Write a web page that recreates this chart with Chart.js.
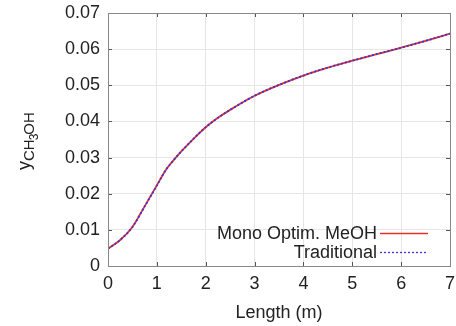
<!DOCTYPE html>
<html><head><meta charset="utf-8">
<script src="https://cdn.jsdelivr.net/npm/chart.js@4/dist/chart.umd.min.js"></script>
<style>html,body{margin:0;padding:0;background:#fff}#c{display:block}</style>
</head><body>
<canvas id="c" width="456" height="326"></canvas>
<script>
const lengthM = [0, 0.25, 0.5, 0.75, 1.0, 1.1, 1.2, 1.3, 1.5, 1.75, 2.0, 2.25, 2.5, 3.0, 3.5, 4.0, 4.5, 5.0, 5.5, 6.0, 6.5, 7.0];
const monoOptim = [0.0048, 0.0072, 0.0108, 0.0165, 0.0223, 0.0247, 0.0269, 0.0286, 0.0317, 0.0352, 0.0384, 0.0410, 0.0432, 0.0471, 0.0501, 0.0527, 0.0549, 0.0568, 0.0586, 0.0604, 0.0623, 0.0643];
const traditional = [0.0048, 0.0072, 0.0108, 0.0165, 0.0223, 0.0247, 0.0269, 0.0286, 0.0317, 0.0352, 0.0384, 0.0410, 0.0432, 0.0471, 0.0501, 0.0527, 0.0549, 0.0568, 0.0586, 0.0604, 0.0623, 0.0643];
const xTicks = [0,1,2,3,4,5,6,7];
const yTicks = [0,0.01,0.02,0.03,0.04,0.05,0.06,0.07];
const seriesNames = ['Mono Optim. MeOH', 'Traditional'];

const FONT = 'Liberation Sans, Arial, sans-serif';
const pts = (xs, ys) => xs.map((x, i) => ({x, y: ys[i]}));

const framePlugin = {
  id: 'frame',
  afterDraw(chart) {
    const {ctx, chartArea: a, scales: {x, y}} = chart;
    ctx.save();
    ctx.strokeStyle = '#555';
    ctx.lineWidth = 1;
    const L = 4;
    ctx.beginPath();
    xTicks.forEach(v => {
      const px = Math.round(x.getPixelForValue(v)) + 0.5;
      ctx.moveTo(px, a.bottom); ctx.lineTo(px, a.bottom - L);
      ctx.moveTo(px, a.top); ctx.lineTo(px, a.top + L);
    });
    yTicks.forEach(v => {
      const py = Math.round(y.getPixelForValue(v)) + 0.5;
      ctx.moveTo(a.left, py); ctx.lineTo(a.left + L, py);
      ctx.moveTo(a.right, py); ctx.lineTo(a.right - L, py);
    });
    ctx.stroke();
    ctx.strokeStyle = '#888';
    ctx.strokeRect(Math.round(a.left) + 0.5, Math.round(a.top) + 0.5, Math.round(a.right - a.left), Math.round(a.bottom - a.top));

    // legend (text right-aligned, sample on the right)
    ctx.font = '18px ' + FONT;
    ctx.textAlign = 'right';
    ctx.textBaseline = 'middle';
    const ds = chart.data.datasets;
    const rowsY = [233, 252];
    ds.forEach((d, i) => {
      const yy = rowsY[i];
      ctx.fillStyle = '#222';
      ctx.fillText(d.label, 377, yy + 1);
      ctx.strokeStyle = d.borderColor;
      ctx.lineWidth = 1.3;
      ctx.setLineDash(d.borderDash || []);
      ctx.beginPath();
      ctx.moveTo(380, yy + 0.5); ctx.lineTo(428, yy + 0.5);
      ctx.stroke();
      ctx.setLineDash([]);
    });

    // y-axis title: y_{CH_3OH}
    ctx.translate(30, 170);
    ctx.rotate(-Math.PI / 2);
    ctx.textAlign = 'left';
    ctx.textBaseline = 'alphabetic';
    ctx.fillStyle = '#222';
    let cx = 0;
    ctx.font = '18px ' + FONT;
    ctx.fillText('y', cx, 0); cx += ctx.measureText('y').width;
    ctx.font = '15px ' + FONT;
    ctx.fillText('CH', cx, 4); cx += ctx.measureText('CH').width;
    ctx.font = '12px ' + FONT;
    ctx.fillText('3', cx - 1, 8); cx += ctx.measureText('3').width - 2;
    ctx.font = '15px ' + FONT;
    ctx.fillText('OH', cx, 4);
    ctx.restore();
  }
};

new Chart(document.getElementById('c'), {
  type: 'line',
  data: {
    datasets: [
      {label: seriesNames[0], data: pts(lengthM, monoOptim), borderColor: '#e8302a', borderWidth: 1.8, pointRadius: 0, cubicInterpolationMode: 'monotone', fill: false, order: 2},
      {label: seriesNames[1], data: pts(lengthM, traditional), borderColor: '#3535d8', borderWidth: 1.8, borderDash: [2, 2], pointRadius: 0, cubicInterpolationMode: 'monotone', fill: false, order: 1}
    ]
  },
  options: {
    responsive: false,
    animation: false,
    layout: {padding: {top: 13, right: 6, left: 0, bottom: 0}},
    plugins: {legend: {display: false}, tooltip: {enabled: false}},
    scales: {
      x: {
        type: 'linear', min: 0, max: 7,
        afterBuildTicks: s => { s.ticks = xTicks.map(v => ({value: v})); },
        afterFit: s => { s.height = 60; s.paddingLeft = 0; s.paddingRight = 0; },
        grid: {color: '#e6e6e6', drawTicks: false},
        border: {display: false},
        ticks: {color: '#222', font: {family: FONT, size: 18}, padding: 7, maxRotation: 0},
        title: {display: true, text: 'Length (m)', color: '#222', font: {family: FONT, size: 18}, padding: {top: 0, bottom: 2}}
      },
      y: {
        type: 'linear', min: 0, max: 0.07,
        afterBuildTicks: s => { s.ticks = yTicks.map(v => ({value: v})); },
        afterFit: s => { s.width = 108; s.paddingTop = 0; s.paddingBottom = 0; },
        grid: {color: '#e6e6e6', drawTicks: false},
        border: {display: false},
        ticks: {color: '#222', font: {family: FONT, size: 18}, padding: 8, callback: v => String(Math.round(v * 100) / 100)}
      }
    }
  },
  plugins: [framePlugin]
});
</script>
</body></html>
